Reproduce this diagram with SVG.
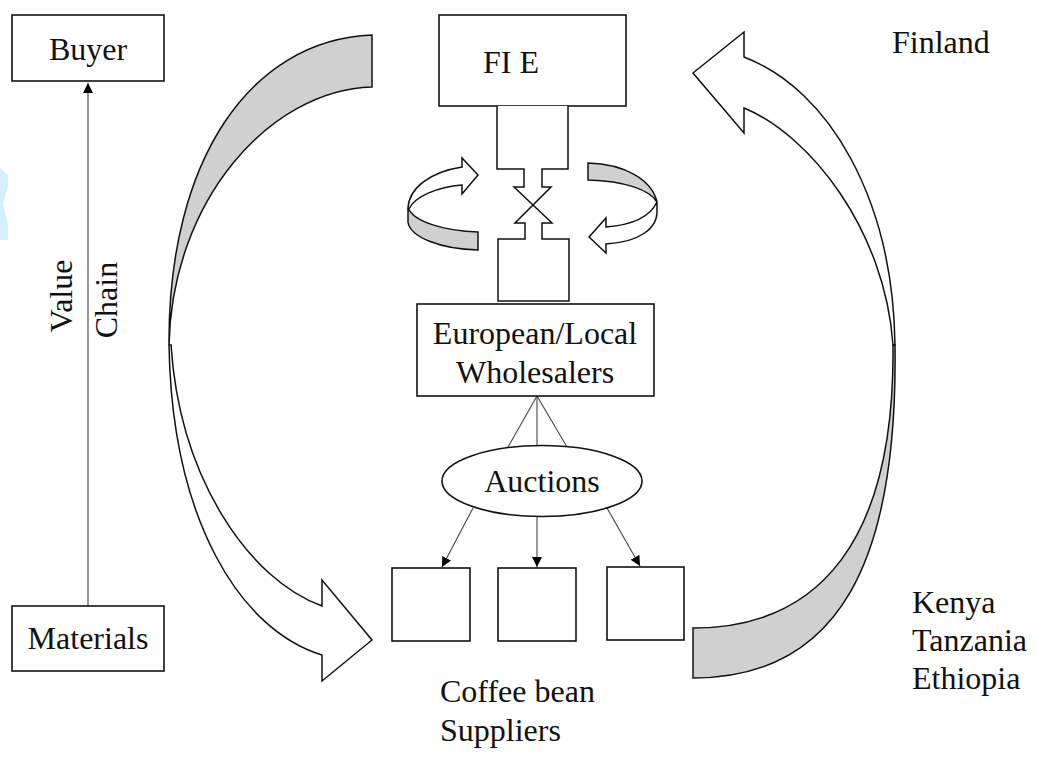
<svg xmlns="http://www.w3.org/2000/svg" width="1037" height="761" viewBox="0 0 1037 761">
<defs>
<marker id="ah" viewBox="0 0 10 10" refX="10" refY="5" markerWidth="10" markerHeight="10" markerUnits="userSpaceOnUse" orient="auto">
<path d="M0,0 L10,5 L0,10 Z" fill="#000"/>
</marker>
<style>
.box{fill:#fff;stroke:#111;stroke-width:1.6}
.shape{stroke:#111;stroke-width:1.5;stroke-linejoin:miter}
.grey{fill:#d0d0d0}
.white{fill:#fff}
.thin{stroke:#444;stroke-width:1.1;fill:none}
.t{font-size:32px;fill:#111}
.c{text-anchor:middle}
</style>
</defs>
<rect width="1037" height="761" fill="#fff"/>
<path d="M0,168 L8,175 L8,186 L3,204 L8,224 L8,240 L0,240 Z" fill="#d3effb"/>

<g id="connectors">
<line class="thin" x1="88" y1="606" x2="88" y2="83" marker-end="url(#ah)"/>
<line class="thin" x1="537" y1="396" x2="508" y2="447"/>
<line class="thin" x1="537" y1="396" x2="537" y2="446"/>
<line class="thin" x1="537" y1="396" x2="567" y2="447"/>
<line class="thin" x1="473" y1="508" x2="442" y2="567" marker-end="url(#ah)"/>
<line class="thin" x1="537" y1="517" x2="537" y2="567" marker-end="url(#ah)"/>
<line class="thin" x1="607" y1="508" x2="640" y2="566" marker-end="url(#ah)"/>
</g>

<g id="big-left-arrow">
<path class="shape grey" d="M372,35 C250,40 168,160 169,345 C172,200 270,90 372,87 Z"/>
<path class="shape white" d="M169,345 C172,520 240,630 322,655 L322,681 L372,640 L322,580 L322,606 C250,580 180,480 171,345 Z"/>
</g>
<g id="big-right-arrow">
<path class="shape white" d="M895,345 C893,200 830,90 744,57 L744,32 L693,73 L744,133 L744,108 C810,135 885,230 893,345 Z"/>
<path class="shape grey" d="M895,345 C898,560 840,678 693,678 L693,628 C820,628 895,540 893,345 Z"/>
</g>

<g font-family="'Liberation Serif', 'Times New Roman', 'DejaVu Serif', serif">
<g id="buyer">
<rect class="box" x="12" y="15" width="152" height="66"/>
<text class="t c" x="88" y="60">Buyer</text>
</g>
<g id="materials">
<rect class="box" x="12" y="606" width="152" height="65"/>
<text class="t c" x="88" y="649">Materials</text>
</g>
<g id="value-chain-label">
<text class="t c" transform="translate(72,296) rotate(-90)">Value</text>
<text class="t c" transform="translate(117,300) rotate(-90)">Chain</text>
</g>

<g id="fie">
<rect class="box" x="439" y="15" width="187" height="91"/>
<text class="t c" x="511" y="73">FI E</text>
</g>
<g id="exchange">
<path class="shape" fill="#fff" d="M497,106 V169 H524 V187 H514 L552,223 H542 V239 H569 V301 H498 V239 H525 V223 H515 L551,187 H542 V169 H568 V106"/>
</g>
<g id="rotate-left">
<path class="shape grey" d="M408,208 C414,222 445,231 478,232 L478,250 C440,249 410,237 408,222 Z"/>
<path class="shape white" d="M408,208 C409,188 430,172 462,167 L462,158 L478,175 L462,194 L462,185 C438,187 415,196 409,209 Z"/>
</g>
<g id="rotate-right">
<path class="shape grey" d="M588,163 C625,164 652,180 657,202 C650,190 625,181 588,180 Z"/>
<path class="shape white" d="M657,202 C650,217 632,225 606,227 L606,218 L589,237 L606,253 L606,244 C640,242 658,228 657,210 Z"/>
</g>

<g id="wholesalers">
<rect class="box" x="417" y="304" width="237" height="92"/>
<text class="t c" x="535" y="344">European/Local</text>
<text class="t c" x="535" y="383">Wholesalers</text>
</g>
<g id="auctions">
<ellipse class="box" cx="542" cy="481" rx="100" ry="35.5"/>
<text class="t c" x="542" y="492">Auctions</text>
</g>
<g id="supplier1"><rect class="box" x="392" y="568" width="78" height="73"/></g>
<g id="supplier2"><rect class="box" x="498" y="568" width="78" height="73"/></g>
<g id="supplier3"><rect class="box" x="607" y="567" width="77" height="73"/></g>

<g id="labels">
<text class="t" x="892" y="53">Finland</text>
<text class="t" x="440" y="702">Coffee bean</text>
<text class="t" x="440" y="741">Suppliers</text>
<text class="t" x="912" y="613">Kenya</text>
<text class="t" x="912" y="651">Tanzania</text>
<text class="t" x="912" y="689">Ethiopia</text>
</g>
</g>
</svg>
